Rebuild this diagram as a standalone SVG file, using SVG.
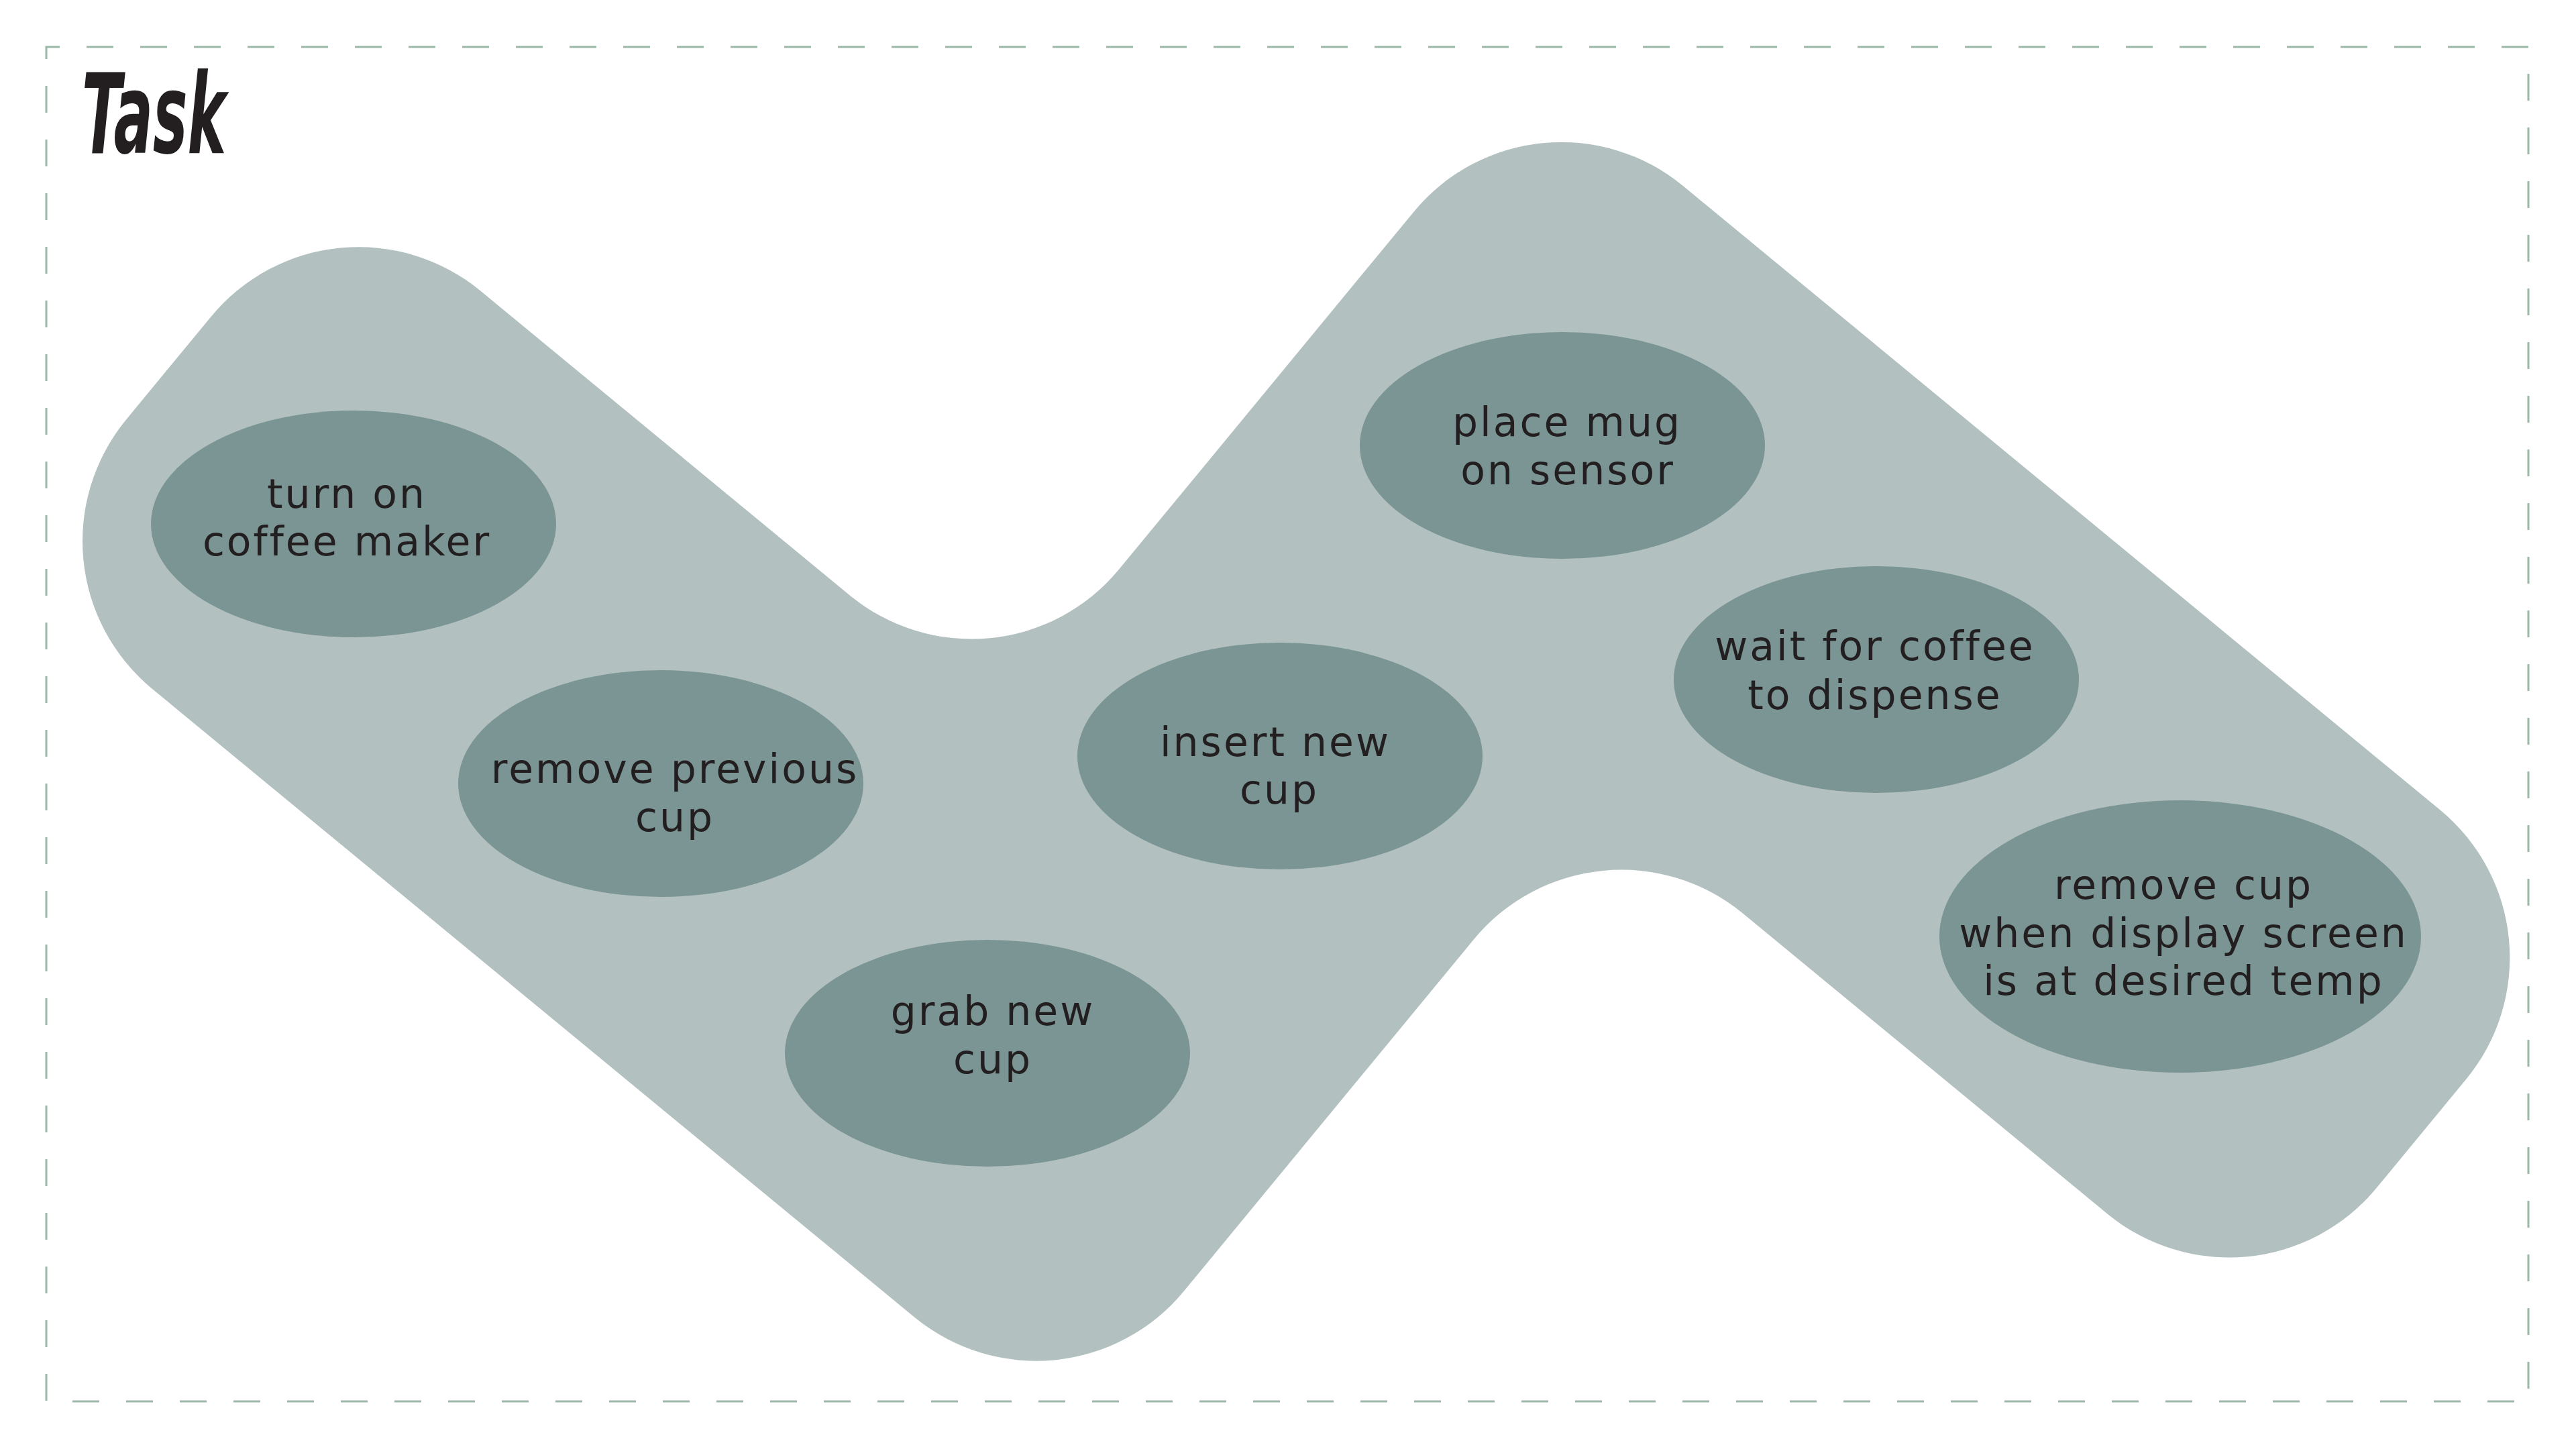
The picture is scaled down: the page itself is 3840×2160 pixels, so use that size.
<svg xmlns="http://www.w3.org/2000/svg" width="3840" height="2160" viewBox="0 0 3840 2160">
  <style>
    .frame { fill: none; stroke: #9bb9a6; stroke-width: 3; stroke-dasharray: 40 40; stroke-dashoffset: 20; }
    .blob { fill: #b2c1c0; }
    .node ellipse { fill: #7a9593; }
    .node text { font-family: "DejaVu Sans", "Noto Sans", sans-serif; font-size: 60px; letter-spacing: 3px; fill: #231f20; text-anchor: middle; }
    .title { font-family: "Liberation Sans Narrow", "DejaVu Sans Condensed", "Liberation Sans", sans-serif; font-weight: bold; font-style: italic; font-size: 165px; fill: #231f20; }
  </style>
  <rect width="3840" height="2160" fill="#ffffff"/>
  <rect class="frame" x="69" y="70" width="3700" height="2019"/>
  <text class="title" x="122" y="228" textLength="215" lengthAdjust="spacingAndGlyphs">Task</text>

  <g id="background-shape">
    <path class="blob" transform="rotate(39.5)" d="M 828 -121 L 1542 -121 A 285 285 0 0 0 1827 -406 L 1827 -1097 A 285 285 0 0 1 2112 -1382 L 3575 -1382 A 285 285 0 0 1 3860 -1097 L 3860 -887 A 285 285 0 0 1 3575 -602 L 2871 -602 A 285 285 0 0 0 2586 -317 L 2586 363 A 285 285 0 0 1 2301 648 L 828 648 A 285 285 0 0 1 543 363 L 543 164 A 285 285 0 0 1 828 -121 Z"/>
  </g>

  <g id="connectors"></g>

  <g id="node-turn-on" class="node">
    <ellipse cx="527" cy="781" rx="302" ry="169"/>
    <text x="517" y="757">turn on</text>
    <text x="517" y="828">coffee maker</text>
  </g>
  <g id="node-remove-previous" class="node">
    <ellipse cx="985" cy="1168" rx="302" ry="169"/>
    <text x="1006" y="1167">remove previous</text>
    <text x="1006" y="1239">cup</text>
  </g>
  <g id="node-grab-new" class="node">
    <ellipse cx="1472" cy="1570" rx="302" ry="169"/>
    <text x="1480" y="1528">grab new</text>
    <text x="1480" y="1600">cup</text>
  </g>
  <g id="node-insert-new" class="node">
    <ellipse cx="1908" cy="1127" rx="302" ry="169"/>
    <text x="1901" y="1127">insert new</text>
    <text x="1907" y="1198">cup</text>
  </g>
  <g id="node-place-mug" class="node">
    <ellipse cx="2329" cy="664" rx="302" ry="169"/>
    <text x="2336" y="650">place mug</text>
    <text x="2337" y="722">on sensor</text>
  </g>
  <g id="node-wait" class="node">
    <ellipse cx="2797" cy="1013" rx="302" ry="169"/>
    <text x="2795" y="984">wait for coffee</text>
    <text x="2795" y="1057">to dispense</text>
  </g>
  <g id="node-remove-cup" class="node">
    <ellipse cx="3250" cy="1396" rx="359" ry="203"/>
    <text x="3255" y="1340">remove cup</text>
    <text x="3255" y="1412">when display screen</text>
    <text x="3255" y="1483">is at desired temp</text>
  </g>
</svg>
